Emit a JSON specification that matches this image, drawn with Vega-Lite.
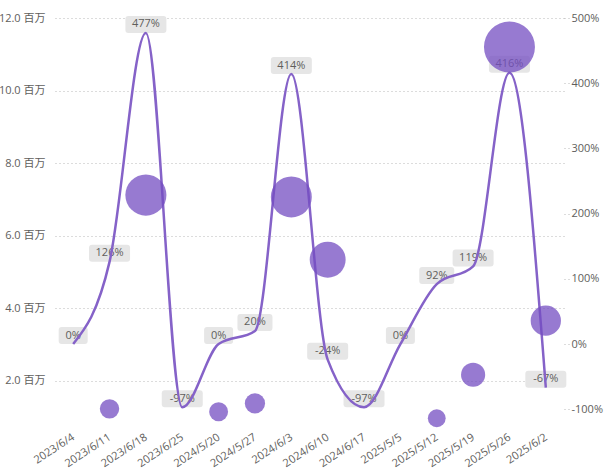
{
  "$schema": "https://vega.github.io/schema/vega-lite/v6.json",
  "autosize": "none",
  "padding": {"left": 55, "top": 18, "right": 43, "bottom": 55},
  "width": 509,
  "height": 401,
  "data": {
    "values": [
      {"week": "2023/6/4", "sales": 0.54, "growth": 0},
      {"week": "2023/6/11", "sales": 1.23, "growth": 1.26},
      {"week": "2023/6/18", "sales": 7.12, "growth": 4.77},
      {"week": "2023/6/25", "sales": 0.21, "growth": -0.97},
      {"week": "2024/5/20", "sales": 1.15, "growth": 0},
      {"week": "2024/5/27", "sales": 1.38, "growth": 0.2},
      {"week": "2024/6/3", "sales": 7.07, "growth": 4.14},
      {"week": "2024/6/10", "sales": 5.34, "growth": -0.24},
      {"week": "2024/6/17", "sales": 0.16, "growth": -0.97},
      {"week": "2025/5/5", "sales": 0.51, "growth": 0},
      {"week": "2025/5/12", "sales": 0.97, "growth": 0.92},
      {"week": "2025/5/19", "sales": 2.17, "growth": 1.19},
      {"week": "2025/5/26", "sales": 11.2, "growth": 4.16},
      {"week": "2025/6/2", "sales": 3.66, "growth": -0.67}
    ]
  },
  "encoding": {
    "x": {
      "field": "week",
      "type": "ordinal",
      "sort": null,
      "scale": {"type": "point", "padding": 0.5},
      "axis": {
        "title": null,
        "labelAngle": -33,
        "labelAlign": "right",
        "labelBaseline": "middle",
        "ticks": false,
        "domain": false,
        "grid": false,
        "labelPadding": 17,
        "labelFontSize": 11,
        "labelColor": "#605E5C"
      }
    }
  },
  "layer": [
    {
      "encoding": {
        "y": {
          "field": "growth",
          "type": "quantitative",
          "scale": {"domain": [-1.15, 5], "nice": false, "zero": false},
          "axis": {
            "orient": "right",
            "title": null,
            "values": [-1, 0, 1, 2, 3, 4, 5],
            "format": ".0%",
            "grid": false,
            "domain": false,
            "ticks": true,
            "tickSize": 6,
            "tickDash": [1, 3],
            "tickColor": "#b8b8b8",
            "labelPadding": 1,
            "labelFontSize": 11,
            "labelColor": "#605E5C"
          }
        }
      },
      "layer": [
        {
          "mark": {"type": "point", "filled": true, "color": "#e6e6e6", "opacity": 1, "size": 400, "yOffset": -8.5, "strokeWidth": 0},
          "encoding": {
            "shape": {
              "field": "growth",
              "type": "nominal",
              "legend": null,
              "scale": {
                "domain": [0, 0.2, 0.92, 1.19, 1.26, 4.14, 4.16, 4.77, -0.24, -0.67, -0.97],
                "range": [
                  "M-1.15,-0.85H1.15Q1.45,-0.85 1.45,-0.55V0.55Q1.45,0.85 1.15,0.85H-1.15Q-1.45,0.85 -1.45,0.55V-0.55Q-1.45,-0.85 -1.15,-0.85Z",
                  "M-1.45,-0.85H1.45Q1.75,-0.85 1.75,-0.55V0.55Q1.75,0.85 1.45,0.85H-1.45Q-1.75,0.85 -1.75,0.55V-0.55Q-1.75,-0.85 -1.45,-0.85Z",
                  "M-1.45,-0.85H1.45Q1.75,-0.85 1.75,-0.55V0.55Q1.75,0.85 1.45,0.85H-1.45Q-1.75,0.85 -1.75,0.55V-0.55Q-1.75,-0.85 -1.45,-0.85Z",
                  "M-1.75,-0.85H1.75Q2.05,-0.85 2.05,-0.55V0.55Q2.05,0.85 1.75,0.85H-1.75Q-2.05,0.85 -2.05,0.55V-0.55Q-2.05,-0.85 -1.75,-0.85Z",
                  "M-1.75,-0.85H1.75Q2.05,-0.85 2.05,-0.55V0.55Q2.05,0.85 1.75,0.85H-1.75Q-2.05,0.85 -2.05,0.55V-0.55Q-2.05,-0.85 -1.75,-0.85Z",
                  "M-1.75,-0.85H1.75Q2.05,-0.85 2.05,-0.55V0.55Q2.05,0.85 1.75,0.85H-1.75Q-2.05,0.85 -2.05,0.55V-0.55Q-2.05,-0.85 -1.75,-0.85Z",
                  "M-1.75,-0.85H1.75Q2.05,-0.85 2.05,-0.55V0.55Q2.05,0.85 1.75,0.85H-1.75Q-2.05,0.85 -2.05,0.55V-0.55Q-2.05,-0.85 -1.75,-0.85Z",
                  "M-1.75,-0.85H1.75Q2.05,-0.85 2.05,-0.55V0.55Q2.05,0.85 1.75,0.85H-1.75Q-2.05,0.85 -2.05,0.55V-0.55Q-2.05,-0.85 -1.75,-0.85Z",
                  "M-1.75,-0.85H1.75Q2.05,-0.85 2.05,-0.55V0.55Q2.05,0.85 1.75,0.85H-1.75Q-2.05,0.85 -2.05,0.55V-0.55Q-2.05,-0.85 -1.75,-0.85Z",
                  "M-1.75,-0.85H1.75Q2.05,-0.85 2.05,-0.55V0.55Q2.05,0.85 1.75,0.85H-1.75Q-2.05,0.85 -2.05,0.55V-0.55Q-2.05,-0.85 -1.75,-0.85Z",
                  "M-1.75,-0.85H1.75Q2.05,-0.85 2.05,-0.55V0.55Q2.05,0.85 1.75,0.85H-1.75Q-2.05,0.85 -2.05,0.55V-0.55Q-2.05,-0.85 -1.75,-0.85Z"
                ]
              }
            }
          }
        },
        {
          "mark": {"type": "text", "dy": -8.5, "baseline": "middle", "align": "center", "fontSize": 11, "color": "#605E5C"},
          "encoding": {
            "text": {"field": "growth", "type": "quantitative", "format": ".0%"}
          }
        },
        {
          "mark": {"type": "line", "interpolate": "monotone", "color": "#8562C8", "strokeWidth": 2.5},
          "encoding": {
            "order": {"value": null}
          }
        }
      ]
    },
    {
      "transform": [{"filter": "datum.sales >= 0.95"}],
      "mark": {"type": "point", "filled": true, "color": "#744EC2", "opacity": 0.75, "strokeWidth": 0},
      "encoding": {
        "y": {
          "field": "sales",
          "type": "quantitative",
          "scale": {"domain": [0.95, 12], "nice": false, "zero": false},
          "axis": {
            "orient": "left",
            "title": null,
            "values": [2, 4, 6, 8, 10, 12],
            "labelExpr": "format(datum.value, '.1f') + ' 百万'",
            "grid": true,
            "gridDash": [1, 3],
            "gridColor": "#b8b8b8",
            "ticks": false,
            "domain": false,
            "labelPadding": 10,
            "labelFontSize": 11,
            "labelColor": "#605E5C"
          }
        },
        "size": {
          "field": "sales",
          "type": "quantitative",
          "legend": null,
          "scale": {"domain": [0, 12], "range": [101, 2777]}
        }
      }
    }
  ],
  "resolve": {"scale": {"y": "independent"}},
  "config": {
    "view": {"stroke": null},
    "font": "'Open Sans', 'Noto Sans CJK SC', sans-serif",
    "locale": {
      "number": {"decimal": ".", "thousands": ",", "grouping": [3], "currency": ["$", ""], "minus": "-"}
    }
  }
}
